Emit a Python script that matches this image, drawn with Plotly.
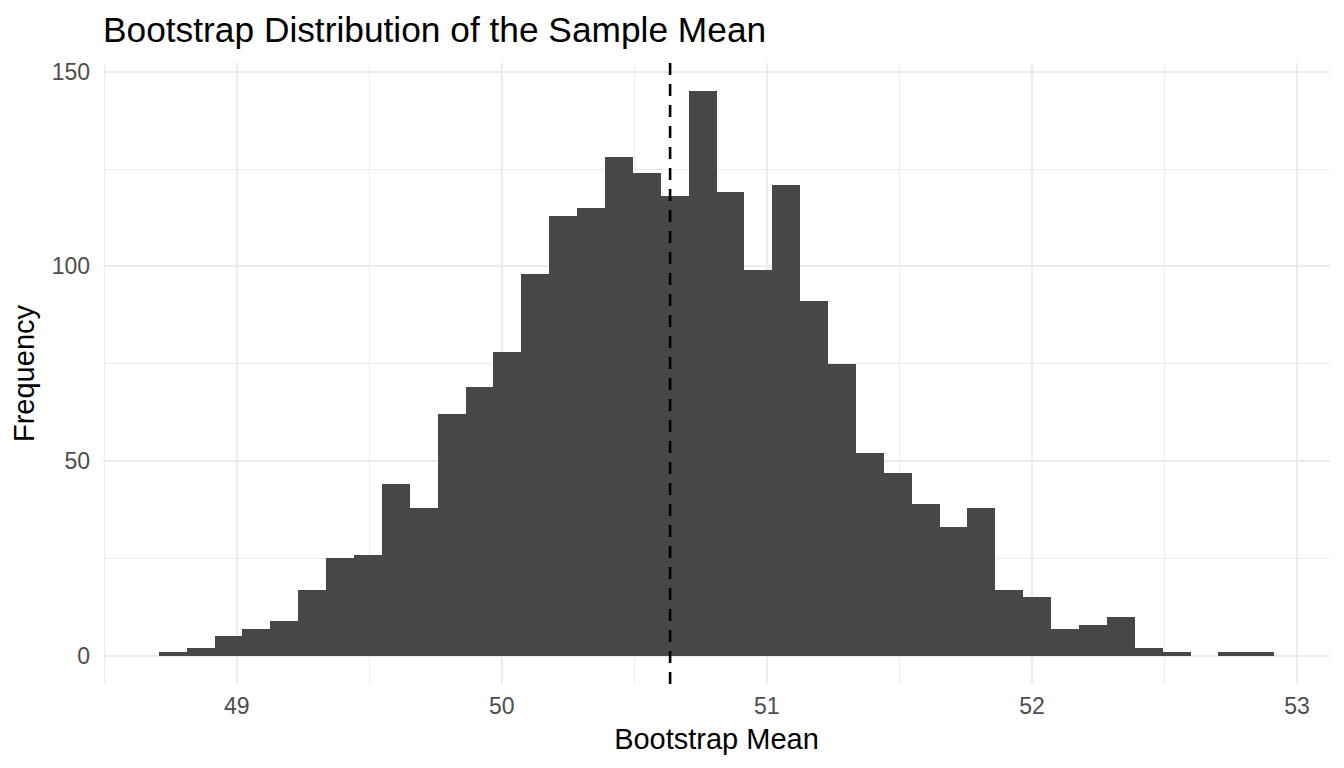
import plotly.graph_objects as go

# histogram counts (40 bins)
bin_start = 48.706
bin_width = 0.1052
counts = [1, 2, 5, 7, 9, 17, 25, 26, 44, 38,
          62, 69, 78, 98, 113, 115, 128, 124, 118, 145,
          119, 99, 121, 91, 75, 52, 47, 39, 33, 38,
          17, 15, 7, 8, 10, 2, 1, 0, 1, 1]
sample_mean = 50.635

x_ticks = [49, 50, 51, 52, 53]
y_ticks = [0, 50, 100, 150]

title_text = "Bootstrap Distribution of the Sample Mean"
x_title = "Bootstrap Mean"
y_title = "Frequency"

FONT = "Liberation Sans, Arial, sans-serif"
GRID = "#EBEBEB"

# the page body keeps its 8px margin, so the figure is 16px smaller than the window
W, H = 1328, 752


def make_fig():
    centers = [bin_start + bin_width * (i + 0.5) for i in range(len(counts))]
    bin_end = bin_start + bin_width * len(counts)
    pad_x = (bin_end - bin_start) * 0.05
    pad_y = max(counts) * 0.05

    fig = go.Figure()
    fig.add_trace(go.Bar(
        x=centers,
        y=counts,
        width=bin_width,
        marker=dict(color="#474747", line=dict(width=0)),
        hoverinfo="x+y",
        showlegend=False,
    ))

    # dashed line at the mean
    fig.add_shape(
        type="line",
        xref="x", yref="paper",
        x0=sample_mean, x1=sample_mean, y0=0, y1=1,
        line=dict(color="black", width=2.6, dash="12px,9px"),
    )

    fig.update_layout(
        width=W,
        height=H,
        margin=dict(l=95, r=6, t=55, b=76),
        paper_bgcolor="white",
        plot_bgcolor="white",
        bargap=0,
        font=dict(family=FONT, color="black"),
        title=dict(
            text=title_text,
            x=0, xref="paper", xanchor="left",
            y=1 - 22 / H, yref="container", yanchor="middle",
            font=dict(size=35.3, color="black", family=FONT),
        ),
    )

    fig.update_xaxes(
        range=[bin_start - pad_x, bin_end + pad_x],
        tickvals=x_ticks,
        ticktext=[str(v) for v in x_ticks],
        tickfont=dict(size=23, color="#4D4D4D"),
        ticklabelstandoff=6,
        showgrid=True, gridcolor=GRID, gridwidth=2,
        minor=dict(dtick=0.5, tick0=48.5, showgrid=True, gridcolor=GRID, gridwidth=1.2),
        zeroline=False, showline=False, ticks="",
        title=dict(text=x_title, font=dict(size=29, color="black"), standoff=10),
    )
    fig.update_yaxes(
        range=[-pad_y, max(counts) + pad_y],
        tickvals=y_ticks,
        ticktext=[str(v) for v in y_ticks],
        tickfont=dict(size=23, color="#4D4D4D"),
        ticklabelstandoff=12,
        showgrid=True, gridcolor=GRID, gridwidth=2,
        minor=dict(dtick=25, tick0=0, showgrid=True, gridcolor=GRID, gridwidth=1.2),
        zeroline=False, showline=False, ticks="",
        title=dict(text=y_title, font=dict(size=29, color="black"), standoff=8),
    )
    return fig


if __name__ == "__main__":
    fig = make_fig()
    fig.write_html("out.html")
